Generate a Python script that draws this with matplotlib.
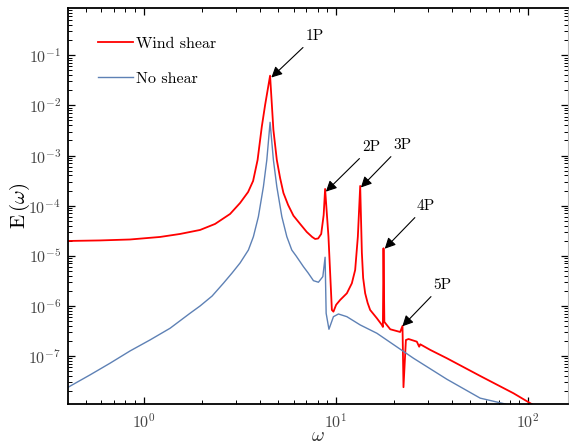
import matplotlib as mpl
mpl.use('Agg')
import matplotlib.pyplot as plt
from matplotlib.ticker import NullFormatter

# Wind shear spectrum
w_shear = [0.399, 0.590, 0.846, 1.212, 1.540, 1.958, 2.343, 2.805, 3.162,
           3.481, 3.696, 3.900, 4.102, 4.268, 4.53, 4.714, 4.911, 5.108,
           5.316, 5.623, 5.993, 6.494, 7.03, 7.50, 7.775, 8.06, 8.36, 8.61,
           8.76, 9.12, 9.50, 9.68, 10.0, 10.49, 11.37, 12.07, 12.56, 12.97,
           13.34, 13.61, 13.82, 14.16, 14.59, 15.03, 16.29, 17.30, 17.51,
           17.64, 17.82, 19.12, 21.54, 22.15, 22.41, 23.07, 23.81, 26.3,
           27.05, 27.4, 30.9, 37.7, 56.2, 83.8, 102.4, 115.5]
E_shear = [1.97e-5, 2.02e-5, 2.11e-5, 2.37e-5, 2.72e-5, 3.27e-5, 4.31e-5,
           6.82e-5, 1.13e-4, 1.87e-4, 3.11e-4, 8.15e-4, 3.76e-3, 1.02e-2,
           3.92e-2, 3.24e-3, 8.15e-4, 3.56e-4, 1.79e-4, 1.03e-4, 6.3e-5,
           4.31e-5, 2.98e-5, 2.37e-5, 2.16e-5, 2.21e-5, 2.72e-5, 6.5e-5,
           2.15e-4, 2.40e-5, 8.28e-7, 7.66e-7, 1.05e-6, 1.31e-6, 1.78e-6,
           2.82e-6, 5.2e-6, 2.40e-5, 2.47e-4, 1.14e-5, 3.6e-6, 1.78e-6,
           1.14e-6, 8.28e-7, 5.66e-7, 4.16e-7, 3.79e-7, 1.41e-5, 4.78e-7,
           3.41e-7, 3.01e-7, 3.97e-7, 2.38e-8, 2.08e-7, 2.18e-7, 1.93e-7,
           1.53e-7, 1.71e-7, 1.32e-7, 9.0e-8, 3.99e-8, 1.80e-8, 1.14e-8, 8.8e-9]

# No shear spectrum
w_none = [0.399, 0.523, 0.665, 0.846, 1.075, 1.366, 1.736, 1.958, 2.261,
          2.588, 2.873, 3.162, 3.493, 3.709, 3.938, 4.182, 4.356, 4.53,
          4.714, 4.911, 5.215, 5.537, 5.876, 6.19, 6.756, 7.15, 7.617, 8.087,
          8.524, 8.76, 8.87, 9.173, 9.68, 10.28, 11.37, 13.34, 16.29, 25.27,
          37.7, 56.2, 75.9, 90.8]
E_none = [2.33e-8, 4.18e-8, 7.16e-8, 1.26e-7, 2.09e-7, 3.57e-7, 7.12e-7,
          9.95e-7, 1.57e-6, 2.82e-6, 4.53e-6, 7.18e-6, 1.30e-5, 2.40e-5,
          6.03e-5, 2.39e-4, 8.15e-4, 4.60e-3, 8.15e-4, 2.39e-4, 6.03e-5,
          2.40e-5, 1.30e-5, 9.9e-6, 6.05e-6, 4.53e-6, 3.18e-6, 2.96e-6,
          3.83e-6, 9.33e-6, 7.11e-7, 3.41e-7, 6.08e-7, 6.88e-7, 6.08e-7,
          4.16e-7, 2.84e-7, 9.0e-8, 3.43e-8, 1.44e-8, 1.10e-8, 7.6e-9]

# Harmonic annotations: label, peak point, text position
harm_labels = ['1P', '2P', '3P', '4P', '5P']
harm_peak = [(4.6, 3.6e-2), (8.84, 1.9e-4), (13.45, 2.3e-4), (17.9, 1.38e-5), (22.1, 3.9e-7)]
harm_text = [(7.775, 0.243), (15.22, 1.48e-3), (22.07, 1.62e-3), (29.4, 9.84e-5), (35.65, 2.61e-6)]

plt.rcParams['font.family'] = 'serif'
plt.rcParams['font.serif'] = ['cmr10']
plt.rcParams['mathtext.fontset'] = 'cm'
plt.rcParams['axes.formatter.use_mathtext'] = True
plt.rcParams['axes.unicode_minus'] = False

fig = plt.figure(figsize=(5.69, 4.48), dpi=100)
ax = fig.add_axes([68/569, 1 - 404/448, 500/569, 396/448])

ax.loglog(w_shear, E_shear, color='#ff0000', lw=1.3, label='Wind shear')
ax.loglog(w_none, E_none, color='#5e81b5', lw=1.0, label='No shear')

ax.set_xlim(0.402, 161)
ax.set_ylim(1.1e-8, 0.878)
ax.xaxis.set_minor_formatter(NullFormatter())
ax.yaxis.set_minor_formatter(NullFormatter())

for lab, pk, tx in zip(harm_labels, harm_peak, harm_text):
    ax.annotate(lab, xy=pk, xytext=tx, ha='center', va='center', fontsize=11,
                arrowprops=dict(arrowstyle='-|>', color='black', lw=0.8,
                                mutation_scale=16, shrinkA=2, shrinkB=0))

ax.tick_params(which='both', direction='in', top=True, right=True,
               labelsize=11.5, labelcolor='#444444')
ax.tick_params(which='major', length=5, width=0.9)
ax.tick_params(which='minor', length=3, width=0.7)
ax.tick_params(axis='y', pad=5)
ax.tick_params(axis='x', pad=6)

for s in ['left', 'bottom', 'top']:
    ax.spines[s].set_linewidth(1.3)
ax.spines['right'].set_color('#bbbbbb')
ax.spines['right'].set_linewidth(0.8)

ax.set_xlabel(r'$\omega$', fontsize=14, color='#333333', labelpad=-3)
ax.set_ylabel(r'E$\,(\omega)$', fontsize=15, labelpad=-2.5)

ax.legend(loc='upper left', bbox_to_anchor=(0.06, 0.927), frameon=False,
          fontsize=11.5, handlelength=2.2, handletextpad=0.2,
          labelspacing=1.3, borderpad=0, borderaxespad=0)

plt.savefig('out.png', dpi=100)
plt.close()
